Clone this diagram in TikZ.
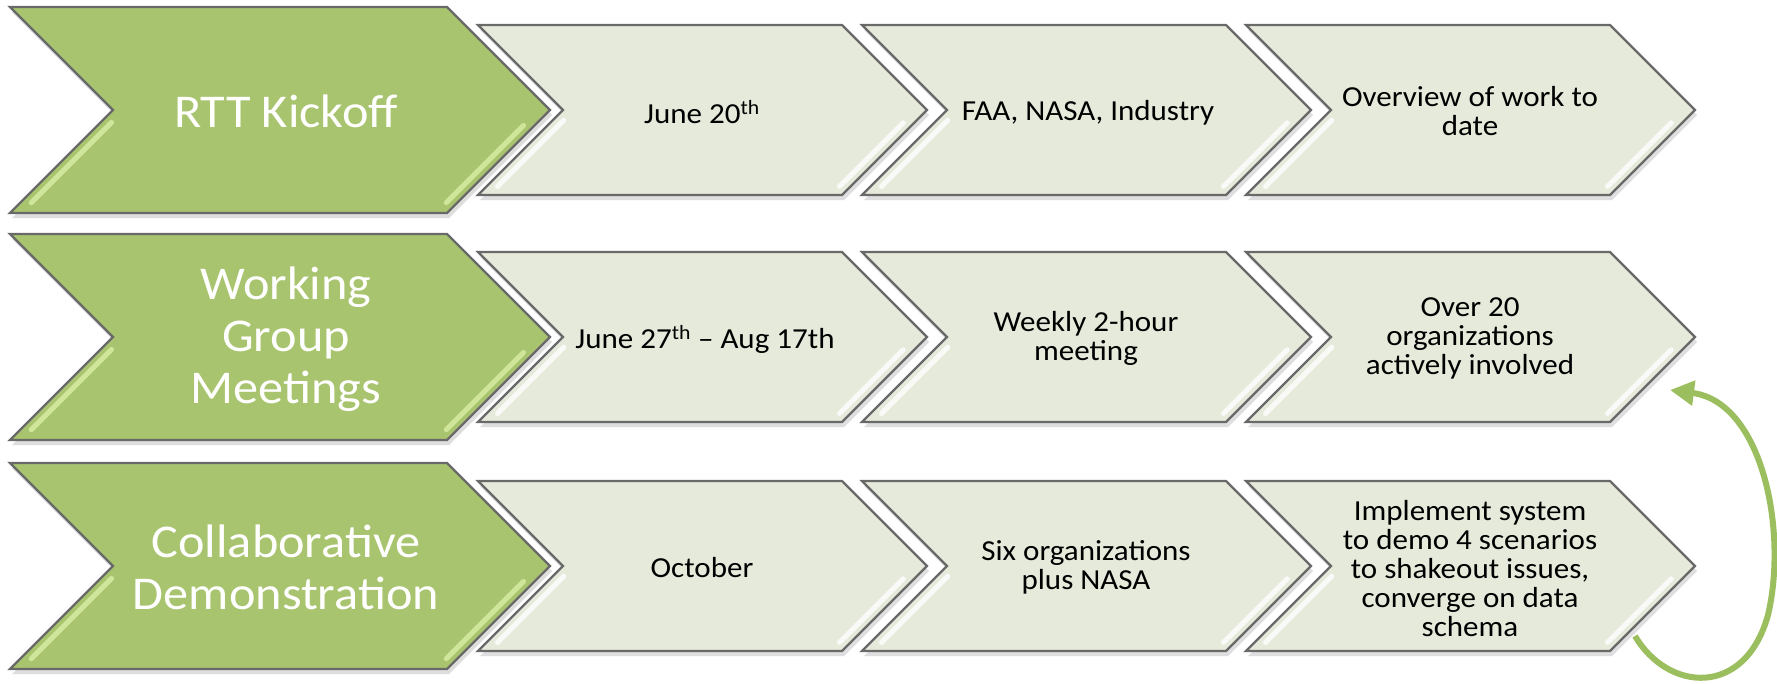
\documentclass[tikz,border=0pt]{standalone}
\usepackage{fontspec}
\setmainfont{Carlito}[FakeStretch=1.07]
\usetikzlibrary{arrows.meta}
\definecolor{gfill}{RGB}{169,196,111}
\definecolor{lfill}{RGB}{229,234,219}
\definecolor{edgec}{RGB}{105,105,105}
\definecolor{ghi}{RGB}{216,238,165}
\definecolor{arrowg}{RGB}{155,190,95}
\definecolor{shadowc}{RGB}{200,200,200}
\newcommand{\chev}[5]{% style, L, C, W, H
  \fill[shadowc,opacity=0.6] ({#2+2},{#3-#5+5}) -- ({#2+#4+2},{#3-#5+5}) -- ({#2+#4+#5+2},{#3+5}) -- ({#2+#4+2},{#3+#5+5}) -- ({#2+2},{#3+#5+5}) -- ({#2+#5+2},{#3+5}) -- cycle;
  \draw[#1] (#2,{#3-#5}) -- ({#2+#4},{#3-#5}) -- ({#2+#4+#5},#3) -- ({#2+#4},{#3+#5}) -- (#2,{#3+#5}) -- ({#2+#5},#3) -- cycle;
}
\newcommand{\chevhi}[5]{% color, L, C, W, H
  \draw[hiline,draw=#1] ({#2+#5-0.12*#5+11},{#3+0.12*#5}) -- ({#2+#5-0.9*#5+11},{#3+0.9*#5});
  \draw[hiline,draw=#1] ({#2+#4+#5-0.15*#5-11},{#3+0.15*#5}) -- ({#2+#4+#5-0.9*#5-11},{#3+0.9*#5});
}
\begin{document}
\begin{tikzpicture}[x=1pt,y=-1pt,
  gchev/.style={draw=edgec,line width=2.2pt,fill=gfill,line join=miter},
  lchev/.style={draw=edgec,line width=2.2pt,fill=lfill,line join=miter},
  hiline/.style={line width=5pt,line cap=round,opacity=0.8},
  gtext/.style={text=white,font=\fontsize{47}{52}\selectfont,align=center,inner sep=0pt},
  ltext/.style={text=black,font=\fontsize{29}{29}\selectfont,align=center,inner sep=0pt},
  loop/.style={draw=arrowg,line width=6pt,-{Triangle[length=24pt,width=24pt]}}]
\useasboundingbox (0,0) rectangle (1777,683);
\fill[white] (0,0) rectangle (1777,683);
% rows
\foreach \c in {110,337,566}{
  \chev{gchev}{10}{\c}{437}{103}
  \chevhi{ghi}{10}{\c}{437}{103}
  \foreach \L in {478,862,1246}{
    \chev{lchev}{\L}{\c}{364}{85}
    \chevhi{white}{\L}{\c}{364}{85}
  }
}
% texts
\node[gtext] (k1) at (286,111) {RTT Kickoff};
\node[gtext] (k2) at (286,339) {Working\\Group\\Meetings};
\node[gtext] (k3) at (286,567) {Collaborative\\Demonstration};
\node[ltext] (r1a) at (702,112) {June 20\textsuperscript{th}};
\node[ltext] (r1b) at (1088,113) {FAA, NASA, Industry};
\node[ltext] (r1c) at (1470,111) {Overview of work to\\date};
\node[ltext] (r2a) at (705,339) {June 27\textsuperscript{th} – Aug 17th};
\node[ltext] (r2b) at (1086,338) {Weekly 2-hour\\meeting};
\node[ltext] (r2c) at (1470,338) {Over 20\\organizations\\actively involved};
\node[ltext] (r3a) at (702,568) {October};
\node[ltext] (r3b) at (1086,567) {Six organizations\\plus NASA};
\node[ltext] (r3c) at (1470,569) {Implement system\\to demo 4 scenarios\\to shakeout issues,\\converge on data\\schema};
% loop arrow
\coordinate (arrS) at (1635,636);
\coordinate (arrE) at (1670,390);
\draw[loop] (arrS) .. controls (1668,692) and (1745,698) .. (1768,615) .. controls (1788,530) and (1762,402) .. (arrE);
\end{tikzpicture}
\end{document}
